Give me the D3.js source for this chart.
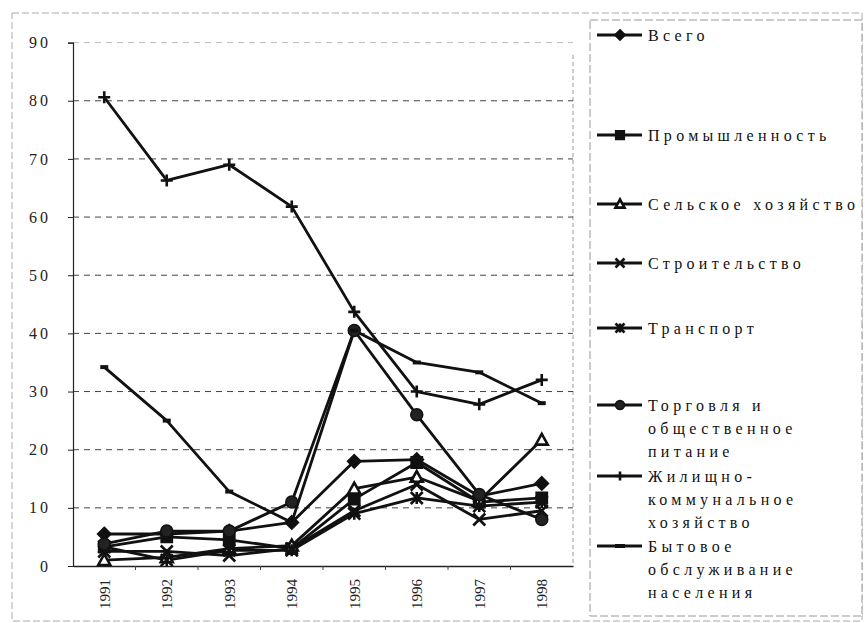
<!DOCTYPE html>
<html>
<head>
<meta charset="utf-8">
<script src="https://cdn.jsdelivr.net/npm/d3@7"></script>
<style>
  body { margin: 0; background: #fff; }
  svg { display: block; }
</style>
</head>
<body>
<svg id="chart" width="865" height="623"></svg>
<script>
const years = ["1991", "1992", "1993", "1994", "1995", "1996", "1997", "1998"];
const yTicks = [0, 10, 20, 30, 40, 50, 60, 70, 80, 90];

const vsego = [5.5, 5.5, 6, 7.5, 18, 18.3, 12, 14.2];
const promyshlennost = [3.3, 5, 4.5, 3, 11.5, 17.8, 11, 11.7];
const selskoe = [1, 1.5, 3, 3.5, 13.3, 15.3, 11.2, 21.7];
const stroitelstvo = [2.5, 2.5, 1.8, 3, 9.5, 14, 8, 9.5];
const transport = [3.3, 1, 2.7, 2.7, 9, 11.7, 10.3, 11];
const torgovlya = [3.8, 6, 6, 11, 40.5, 26, 12.3, 8];
const zhilishchno = [80.6, 66.3, 69, 61.8, 43.7, 30, 27.8, 32];
const bytovoe = [34.2, 25, 12.8, 7.5, 40.5, 35, 33.3, 28];

const seriesNames = [
  ["Всего"],
  ["Промышленность"],
  ["Сельское хозяйство"],
  ["Строительство"],
  ["Транспорт"],
  ["Торговля и", "общественное", "питание"],
  ["Жилищно-", "коммунальное", "хозяйство"],
  ["Бытовое", "обслуживание", "населения"],
];
const seriesValues = [vsego, promyshlennost, selskoe, stroitelstvo, transport, torgovlya, zhilishchno, bytovoe];
const markerKinds = ["diamond", "square", "triangle", "x", "asterisk", "circle", "plus", "dash"];

const SERIF = "'Liberation Serif', 'Times New Roman', 'DejaVu Serif', serif";

const svg = d3.select("#chart");
const plot = { left: 73, right: 573, top: 42.6, bottom: 566 };

const x = d3.scaleBand().domain(years).range([plot.left, plot.right]).paddingInner(0).paddingOuter(0);
const y = d3.scaleLinear().domain([0, 90]).range([plot.bottom, plot.top]);
const cx = (yr) => x(yr) + x.bandwidth() / 2;

// outer chart frame (scanned, light dashed)
svg.append("rect")
  .attr("x", 12).attr("y", 13).attr("width", 850).attr("height", 608)
  .attr("fill", "none").attr("stroke", "#aaa").attr("stroke-width", 1)
  .attr("stroke-dasharray", "7,3");

// plot right border
svg.append("line")
  .attr("x1", plot.right).attr("x2", plot.right)
  .attr("y1", 55).attr("y2", plot.bottom)
  .attr("stroke", "#999").attr("stroke-dasharray", "4,3");

// grid lines
svg.append("g")
  .selectAll("line")
  .data(yTicks.filter((d) => d > 0))
  .join("line")
  .attr("x1", plot.left)
  .attr("x2", plot.right)
  .attr("y1", (d) => y(d))
  .attr("y2", (d) => y(d))
  .attr("stroke", (d) => (d === 90 ? "#bbb" : "#444"))
  .attr("stroke-width", 1)
  .attr("stroke-dasharray", "6,5");

// y axis
const yAxis = svg.append("g")
  .attr("transform", `translate(${plot.left},0)`)
  .call(d3.axisLeft(y).tickValues(yTicks).tickSize(5).tickPadding(17));
yAxis.select(".domain").attr("stroke", "#222").attr("stroke-width", 1.2);
yAxis.selectAll("line").attr("stroke", "#222");
yAxis.selectAll("text")
  .style("font-family", SERIF)
  .style("font-size", "16px")
  .style("letter-spacing", "3px")
  .attr("fill", "#222");

// x axis
const xAxis = svg.append("g")
  .attr("transform", `translate(0,${plot.bottom})`)
  .call(d3.axisBottom(x).tickSize(0).tickPadding(0));
xAxis.select(".domain").attr("stroke", "#222").attr("stroke-width", 1.4);
xAxis.selectAll("text")
  .style("font-family", SERIF)
  .style("font-size", "15px")
  .attr("fill", "#222")
  .attr("text-anchor", "end")
  .attr("dy", "0.35em")
  .attr("transform", "translate(0,13) rotate(-90)");
// category boundary ticks
svg.append("g")
  .selectAll("line")
  .data(years.slice(1))
  .join("line")
  .attr("x1", (d) => x(d)).attr("x2", (d) => x(d))
  .attr("y1", plot.bottom).attr("y2", plot.bottom + 4)
  .attr("stroke", "#444");

// marker shapes
function markerPath(kind, s) {
  const h = s / 2;
  switch (kind) {
    case "diamond": return `M0,${-h}L${h},0L0,${h}L${-h},0Z`;
    case "square": return `M${-h * 0.85},${-h * 0.85}h${s * 0.85}v${s * 0.85}h${-s * 0.85}Z`;
    case "triangle": return `M0,${-h}L${h},${h * 0.8}L${-h},${h * 0.8}Z`;
    case "x": return `M${-h},${-h}L${h},${h}M${h},${-h}L${-h},${h}`;
    case "asterisk": return `M${-h},${-h}L${h},${h}M${h},${-h}L${-h},${h}M0,${-h}L0,${h}`;
    case "plus": return `M${-h},0L${h},0M0,${-h}L0,${h}`;
    case "dash": return `M${-h},0L${h},0`;
    default: return "";
  }
}
function drawMarker(g, kind, size) {
  if (kind === "circle") {
    g.append("circle").attr("r", size / 2).attr("fill", "#222").attr("stroke", "#111").attr("stroke-width", 1.5);
    return;
  }
  const filled = kind === "diamond" || kind === "square";
  const hollow = kind === "triangle";
  g.append("path")
    .attr("d", markerPath(kind, size))
    .attr("fill", filled ? "#111" : hollow ? "#fff" : "none")
    .attr("stroke", "#111")
    .attr("stroke-width", kind === "dash" ? 4 : 2.6)
    .attr("stroke-linejoin", "miter");
}

const line = d3.line()
  .x((d, i) => cx(years[i]))
  .y((d) => y(d));

const seriesG = svg.append("g");
seriesValues.forEach((vals) => {
  seriesG.append("path")
    .datum(vals)
    .attr("d", line)
    .attr("fill", "none")
    .attr("stroke", "#111")
    .attr("stroke-width", 2.8)
    .attr("stroke-linejoin", "round");
});
seriesValues.forEach((vals, si) => {
  vals.forEach((v, i) => {
    const g = seriesG.append("g").attr("transform", `translate(${cx(years[i])},${y(v)})`);
    drawMarker(g, markerKinds[si], markerKinds[si] === "dash" ? 8 : 12);
  });
});

// legend
const legend = svg.append("g");
legend.append("rect")
  .attr("x", 590).attr("y", 20).attr("width", 272).attr("height", 596)
  .attr("fill", "#fff").attr("stroke", "#999").attr("stroke-dasharray", "8,3");

const legendTops = [35, 135, 204, 263, 328, 405, 476, 546];
const lineH = 23;
seriesNames.forEach((lines, si) => {
  const g = legend.append("g").attr("transform", `translate(0,${legendTops[si]})`);
  g.append("line").attr("x1", 597).attr("x2", 642).attr("y1", 0).attr("y2", 0)
    .attr("stroke", "#111").attr("stroke-width", 2.8);
  const mg = g.append("g").attr("transform", "translate(620,0)");
  drawMarker(mg, markerKinds[si], markerKinds[si] === "dash" ? 10 : 9);
  g.selectAll("text")
    .data(lines)
    .join("text")
    .attr("x", 648)
    .attr("y", (d, i) => i * lineH)
    .attr("dy", "0.35em")
    .attr("fill", "#111")
    .style("font-family", SERIF)
    .style("font-size", "16px")
    .style("letter-spacing", "4.3px")
    .text((d) => d);
});
</script>
</body>
</html>
